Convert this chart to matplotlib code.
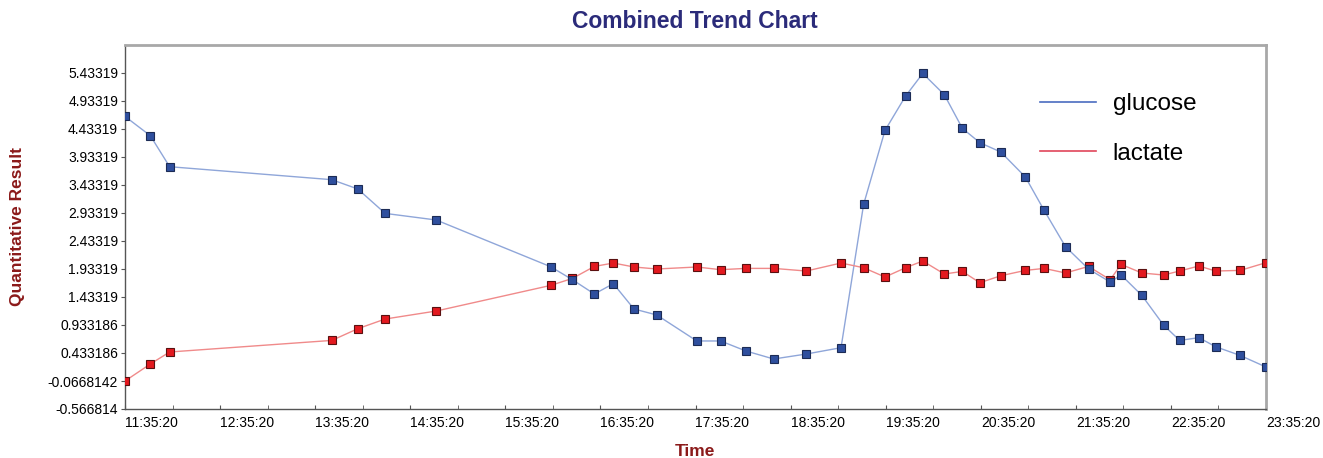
import matplotlib
matplotlib.use("Agg")
import matplotlib.pyplot as plt
import matplotlib.dates as mdates
from matplotlib.ticker import FixedLocator
import pandas as pd

# Sample times (same day) and measured values
times = [
    "11:35:20", "11:51:20", "12:03:30", "13:45:50", "14:02:15", "14:19:30",
    "14:51:45", "16:03:55", "16:17:40", "16:31:30", "16:43:30", "16:56:30",
    "17:10:55", "17:36:10", "17:51:10", "18:07:10", "18:24:40", "18:45:15",
    "19:07:10", "19:21:25", "19:34:55", "19:47:55", "19:58:45", "20:12:20",
    "20:23:45", "20:34:45", "20:48:00", "21:03:30", "21:15:20", "21:28:50",
    "21:43:20", "21:57:00", "22:03:55", "22:17:00", "22:30:40", "22:40:50",
    "22:53:00", "23:03:30", "23:19:00", "23:35:20",
]
glucose = [
    4.658, 4.313, 3.760, 3.528, 3.362, 2.926, 2.808, 1.974, 1.742, 1.487,
    1.671, 1.219, 1.112, 0.648, 0.648, 0.469, 0.326, 0.415, 0.528, 3.087,
    4.408, 5.022, 5.426, 5.046, 4.444, 4.189, 4.022, 3.576, 2.980, 2.331,
    1.933, 1.701, 1.826, 1.462, 0.933, 0.658, 0.707, 0.546, 0.390, 0.183,
]
lactate = [
    -0.067, 0.237, 0.451, 0.658, 0.867, 1.040, 1.183, 1.640, 1.765, 1.979,
    2.040, 1.969, 1.933, 1.969, 1.921, 1.944, 1.944, 1.897, 2.040, 1.956,
    1.790, 1.956, 2.076, 1.844, 1.890, 1.688, 1.813, 1.908, 1.944, 1.862,
    1.979, 1.742, 2.015, 1.862, 1.826, 1.897, 1.987, 1.897, 1.908, 2.046,
]
y_ticks = [-0.566814, -0.0668142, 0.433186, 0.933186, 1.43319, 1.93319,
           2.43319, 2.93319, 3.43319, 3.93319, 4.43319, 4.93319, 5.43319]
y_tick_labels = ["-0.566814", "-0.0668142", "0.433186", "0.933186", "1.43319",
                 "1.93319", "2.43319", "2.93319", "3.43319", "3.93319",
                 "4.43319", "4.93319", "5.43319"]

plt.rcParams["font.family"] = ["Liberation Sans", "DejaVu Sans"]

t = pd.to_datetime(["2020-01-01 " + s for s in times])
t0, t1 = t[0], t[-1]

fig = plt.figure(figsize=(13.23, 4.58), dpi=100)
ax = fig.add_axes([125 / 1323, 1 - 409 / 458, (1266 - 125) / 1323, (409 - 45) / 458])

ax.plot(t, glucose, color="#8fa6d9", lw=1.0, zorder=2)
ax.plot(t, glucose, ls="none", marker="s", ms=5.8, mfc="#2f4f9e",
        mec="#1c2b55", mew=0.8, zorder=4)
ax.plot(t, lactate, color="#f08a8a", lw=1.0, zorder=2)
ax.plot(t, lactate, ls="none", marker="s", ms=5.8, mfc="#e3191f",
        mec="#5a1010", mew=0.8, zorder=3)

# legend (lines only, no frame)
h1, = ax.plot([], [], color="#4a6cc0", lw=1.2)
h2, = ax.plot([], [], color="#e0455a", lw=1.2)
ax.legend([h1, h2], ["glucose", "lactate"], loc="upper left",
          bbox_to_anchor=(0.7825, 0.927), frameon=False, fontsize=17.5,
          handlelength=2.3, handletextpad=0.7, labelspacing=1.12)

ax.set_xlim(t0, t1)
ax.set_ylim(-0.566814, 5.933186)

hours = pd.date_range(t0, t1, freq="1h")
halves = pd.date_range(t0, t1, freq="30min")
ax.xaxis.set_major_locator(FixedLocator(mdates.date2num(hours)))
ax.xaxis.set_minor_locator(FixedLocator(mdates.date2num(halves)))
ax.xaxis.set_major_formatter(mdates.DateFormatter("%H:%M:%S"))
ax.tick_params(axis="x", which="both", direction="in", length=3,
               color="#555555", labelsize=10, pad=5)
for lbl in ax.get_xticklabels():
    lbl.set_horizontalalignment("left")

ax.set_yticks(y_ticks)
ax.set_yticklabels(y_tick_labels)
ax.tick_params(axis="y", direction="out", length=3, color="#555555",
               labelsize=10, pad=2)

for side in ("left", "bottom"):
    ax.spines[side].set_color("#555555")
    ax.spines[side].set_linewidth(1.0)
for side in ("top", "right"):
    ax.spines[side].set_color("#a8a8a8")
    ax.spines[side].set_linewidth(2.0)

title_font = ["Liberation Sans Narrow", "Liberation Sans", "DejaVu Sans"]
fig.text(695 / 1323, 1 - 22 / 458, "Combined Trend Chart", ha="center",
         va="center", fontsize=16.5, fontweight="bold", color="#2b2b7a",
         family=title_font)
fig.text(18 / 1323, 1 - 227 / 458, "Quantitative Result", ha="center",
         va="center", rotation=90, fontsize=12.5, fontweight="bold",
         color="#8b1a1a", family=title_font)
fig.text(695 / 1323, 1 - 452 / 458, "Time", ha="center", va="center",
         fontsize=12.5, fontweight="bold", color="#8b1a1a", family=title_font)

fig.savefig("out.png", dpi=100)
